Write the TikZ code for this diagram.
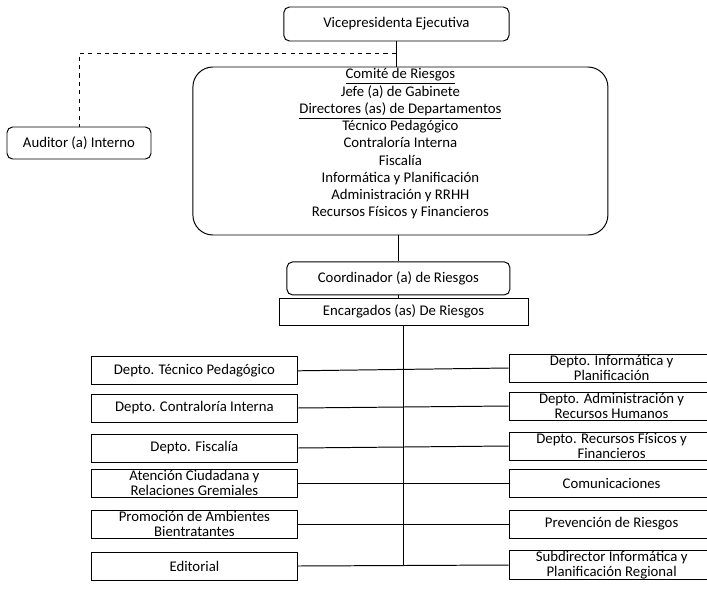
\documentclass[tikz,border=0pt]{standalone}
\usepackage{fontspec}
\setmainfont{Carlito}
\usetikzlibrary{arrows,shapes}

\begin{document}
\begin{tikzpicture}[line width=0.7pt,font=\fontsize{10.5}{12.6}\selectfont,
  rbox/.style={draw,rounded corners=4pt,inner sep=0pt,align=center},
  dbox/.style={draw,inner sep=0pt,minimum width=5.13cm,minimum height=0.7cm,align=center,font=\fontsize{10.5}{11}\selectfont}]
\useasboundingbox (0,0) rectangle (17.675,-14.75);
\node[rbox,minimum width=5.63cm,minimum height=0.85cm] at (9.91,-0.6) (vice) {Vicepresidenta Ejecutiva};
\node[rbox,minimum width=3.6cm,minimum height=0.8cm] at (1.975,-3.575) (aud) {Auditor (a) Interno};
\node[draw,rounded corners=0.5cm,minimum width=10.375cm,minimum height=4.2cm] at (10.01,-3.775) (comite) {};
\node[align=center,font=\fontsize{10.5}{12.27}\selectfont] at (10.01,-3.6) (comitetxt) {\underline{Comité de Riesgos}\\ Jefe (a) de Gabinete\\ \underline{Directores (as) de Departamentos}\\ Técnico Pedagógico\\ Contraloría Interna\\ Fiscalía\\ Informática y Planificación\\ Administración y RRHH\\ Recursos Físicos y Financieros};
\node[rbox,minimum width=5.575cm,minimum height=0.825cm] at (9.96,-6.96) (coord) {Coordinador (a) de Riesgos};
\node[draw,minimum width=6.225cm,minimum height=0.675cm] at (10.09,-7.79) (enc) {Encargados (as) De Riesgos};
% left column
\node[dbox] at (4.86,-9.27) (tec) {Depto. Técnico Pedagógico};
\node[dbox] at (4.86,-10.2) (contra) {Depto. Contraloría Interna};
\node[dbox] at (4.86,-11.2) (fisc) {Depto. Fiscalía};
\node[dbox] at (4.86,-12.075) (aten) {Atención Ciudadana y\\Relaciones Gremiales};
\node[dbox] at (4.86,-13.1) (prom) {Promoción de Ambientes\\Bientratantes};
\node[dbox] at (4.86,-14.15) (edit) {Editorial};
% right column
\node[dbox] at (15.29,-9.2) (info) {Depto. Informática y\\Planificación};
\node[dbox] at (15.29,-10.15) (admin) {Depto. Administración y\\Recursos Humanos};
\node[dbox] at (15.29,-11.15) (recfis) {Depto. Recursos Físicos y\\Financieros};
\node[dbox] at (15.29,-12.075) (comu) {Comunicaciones};
\node[dbox] at (15.29,-13.1) (prev) {Prevención de Riesgos};
\node[dbox] at (15.29,-14.125) (subdir) {Subdirector Informática y\\Planificación Regional};
\coordinate (split) at (9.9,-1.325);
\draw (vice.south) -- (vice.south |- comite.north);
\draw[dashed] (split) -| (aud);
\draw (coord.north |- comite.south) -- (coord.north);
\draw (coord.south) -- (coord.south |- enc.north);
\draw (enc.south) -- (enc.south |- edit.east);
\draw (tec.east) -- (info.west);
\draw (contra.east) -- (admin.west);
\draw (fisc.east) -- (recfis.west);
\draw (aten.east) -- (comu.west);
\draw (prom.east) -- (prev.west);
\draw (edit.east) -- (subdir.west);
\end{tikzpicture}
\end{document}
